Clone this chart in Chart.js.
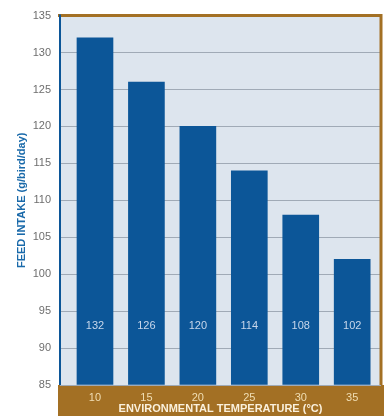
<!DOCTYPE html>
<html>
<head>
<meta charset="utf-8">
<script src="https://cdn.jsdelivr.net/npm/chart.js@4.4.1/dist/chart.umd.min.js"></script>
<style>
  html, body { margin: 0; padding: 0; background: #ffffff; }
  #wrap { width: 384px; height: 416px; }
</style>
</head>
<body>
<div id="wrap"><canvas id="chartFeed"></canvas></div>
<script>
// environmental temperature (°C)
const temps = [10, 15, 20, 25, 30, 35];
// feed intake (g/bird/day)
const intake = [132, 126, 120, 114, 108, 102];
const yTicks = [85, 90, 95, 100, 105, 110, 115, 120, 125, 130, 135];

const BAR = 'rgb(12, 86, 152)';
const BROWN = 'rgb(163, 112, 36)';
const PLOT_BG = 'rgb(221, 229, 238)';

// background, brown band and frame
const frame = {
    id: 'frame',
    beforeDraw(chart) {
        const ctx = chart.ctx;
        const a = chart.chartArea;
        ctx.save();
        ctx.fillStyle = PLOT_BG;
        ctx.fillRect(a.left, a.top, a.right - a.left, a.bottom - a.top);
        ctx.fillStyle = BROWN;
        ctx.fillRect(a.left - 2, a.bottom, chart.width - a.left + 2, chart.height - a.bottom);
        ctx.restore();
    },
    afterDraw(chart) {
        const ctx = chart.ctx;
        const a = chart.chartArea;
        ctx.save();
        ctx.strokeStyle = BROWN;
        ctx.lineWidth = 3;
        ctx.beginPath();
        ctx.moveTo(a.left - 2, a.top);
        ctx.lineTo(a.right, a.top);
        ctx.lineTo(a.right, a.bottom);
        ctx.stroke();
        ctx.strokeStyle = BAR;
        ctx.lineWidth = 2;
        ctx.beginPath();
        ctx.moveTo(a.left, a.top - 1);
        ctx.lineTo(a.left, a.bottom);
        ctx.stroke();
        ctx.restore();
    }
};

// values written inside the bars
const barValues = {
    id: 'barValues',
    afterDatasetsDraw(chart) {
        const ctx = chart.ctx;
        const y = chart.scales.y.getPixelForValue(93);
        ctx.save();
        ctx.fillStyle = 'rgb(200, 215, 235)';
        ctx.font = '11px Arial, "Liberation Sans", sans-serif';
        ctx.textAlign = 'center';
        ctx.textBaseline = 'middle';
        chart.getDatasetMeta(0).data.forEach(function(bar, i) {
            ctx.fillText(String(intake[i]), bar.x, y);
        });
        ctx.restore();
    }
};

new Chart(document.getElementById('chartFeed'), {
    type: 'bar',
    data: {
        datasets: [{
            data: temps.map(function(t, i) { return { x: t, y: intake[i] }; }),
            backgroundColor: BAR,
            borderWidth: 0,
            barThickness: 36,
            base: 85
        }]
    },
    options: {
        responsive: true,
        maintainAspectRatio: false,
        animation: false,
        layout: { padding: { top: 12, right: 3, left: 15, bottom: 0 } },
        plugins: {
            legend: { display: false },
            tooltip: { enabled: false }
        },
        scales: {
            x: {
                type: 'linear',
                offset: false,
                min: 6.6,
                max: 37.8,
                afterBuildTicks(scale) {
                    scale.ticks = temps.map(function(v) { return { value: v }; });
                },
                afterFit(scale) { scale.height = 31; },
                grid: { display: false, drawTicks: false },
                border: { display: false },
                ticks: {
                    color: 'rgb(240, 222, 180)',
                    font: { family: 'Arial, "Liberation Sans", sans-serif', size: 11 },
                    padding: 6,
                    maxRotation: 0
                },
                title: {
                    display: true,
                    text: 'ENVIRONMENTAL TEMPERATURE (°C)',
                    color: 'rgb(250, 240, 220)',
                    font: { family: 'Arial, "Liberation Sans", sans-serif', size: 11, weight: 'bold' },
                    padding: { top: 0, bottom: 0 }
                }
            },
            y: {
                min: 85,
                max: 135,
                afterBuildTicks(scale) {
                    scale.ticks = yTicks.map(function(v) { return { value: v }; });
                },
                afterFit(scale) { scale.width = 45; },
                grid: { color: 'rgb(160, 170, 182)', lineWidth: 1, drawTicks: false },
                border: { display: false },
                ticks: {
                    color: 'rgb(110, 110, 110)',
                    font: { family: 'Arial, "Liberation Sans", sans-serif', size: 11 },
                    padding: 9
                },
                title: {
                    display: true,
                    text: 'FEED INTAKE (g/bird/day)',
                    color: 'rgb(26, 106, 170)',
                    font: { family: 'Arial, "Liberation Sans", sans-serif', size: 11, weight: 'bold' },
                    padding: { top: 0, bottom: 0 }
                }
            }
        }
    },
    plugins: [frame, barValues]
});
</script>
</body>
</html>
